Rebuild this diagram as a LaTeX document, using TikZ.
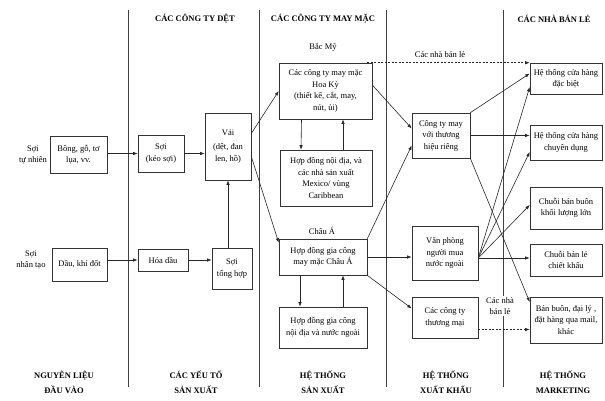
\documentclass[tikz,border=0pt]{standalone}
\usepackage{fontspec}
\setmainfont{Liberation Serif}
\usetikzlibrary{arrows.meta,calc}
\begin{document}
\begin{tikzpicture}[x=1pt,y=-1pt,
  box/.style={draw=black!80, line width=0.6pt, align=center, inner sep=1pt,
    font=\fontsize{8.5}{11.5}\selectfont},
  lbl/.style={align=center, inner sep=1pt, font=\fontsize{8.5}{11.5}\selectfont},
  hdr/.style={align=center, inner sep=1pt, font=\bfseries\fontsize{8.5}{15}\selectfont},
  arr/.style={-{Latex[length=4.5pt,width=3.4pt]}, line width=0.6pt, draw=black!85},
  darr/.style={arr, dashed, dash pattern=on 2pt off 1.5pt},
  sepline/.style={line width=0.8pt, draw=black!75}]
\useasboundingbox (0,0) rectangle (605,400);
% column separators
\draw[sepline] (128,10) -- (128,387);
\draw[sepline] (259,10) -- (259,387);
\draw[sepline] (386,10) -- (386,387);
\draw[sepline] (503,10) -- (503,387);
% headers
\node[hdr] (h1) at (195,19) {CÁC CÔNG TY DỆT};
\node[hdr] (h2) at (323,19) {CÁC CÔNG TY MAY MẶC};
\node[hdr] (h3) at (554,19) {CÁC NHÀ BÁN LẺ};
% bottom labels
\node[hdr] (b1) at (64,382) {NGUYÊN LIỆU\\ĐẦU VÀO};
\node[hdr] (b2) at (196,382) {CÁC YẾU TỐ\\SẢN XUẤT};
\node[hdr] (b3) at (323,382) {HỆ THỐNG\\SẢN XUẤT};
\node[hdr] (b4) at (446,382) {HỆ THỐNG\\XUẤT KHẨU};
\node[hdr] (b5) at (563,382) {HỆ THỐNG\\MARKETING};
% column 1
\node[lbl] (ltn) at (33,155) {Sợi\\tự nhiên};
\node[lbl] (lnt) at (31,260) {Sợi\\nhân tạo};
\node[box, fill=white, minimum width=57pt, minimum height=37pt] (bong) at (78.5,154.5) {Bông, gỗ, tơ\\lụa, vv.};
\node[box, minimum width=55pt, minimum height=33pt] (dau) at (79.5,264.5) {Dầu, khí đốt};
% column 2
\node[box, minimum width=46pt, minimum height=37pt] (keosoi) at (161,153.5) {Sợi\\(kéo sợi)};
\node[box, minimum width=46pt, minimum height=67pt] (vai) at (228,146.5) {Vải\\[3pt](dệt, đan\\len, hồ)};
\node[box, minimum width=50pt, minimum height=22pt] (hoadau) at (163,260) {Hóa dầu};
\node[box, minimum width=40pt, minimum height=41pt] (soith) at (232,268.5) {Sợi\\tổng hợp};
% column 3
\node[lbl] (bacmy) at (323,47) {Bắc Mỹ};
\node[box, minimum width=93pt, minimum height=56pt] (hoaky) at (325.5,91) {Các công ty may mặc\\Hoa Kỳ\\(thiết kế, cắt, may,\\nút, ủi)};
\node[box, minimum width=92pt, minimum height=56pt] (mexico) at (326,178) {Hợp đồng nội địa, và\\các nhà sản xuất\\Mexico/ vùng\\Caribbean};
\node[lbl] (chaualbl) at (322,231) {Châu Á};
\node[box, minimum width=88pt, minimum height=36pt] (chaua) at (323,257) {Hợp đồng gia công\\may mặc Châu Á};
\node[box, minimum width=88pt, minimum height=41pt] (noidia) at (323,327.5) {Hợp đồng gia công\\nội địa và nước ngoài};
% column 4
\node[box, minimum width=58pt, minimum height=45pt] (ctmay) at (441,135.5) {Công ty may\\với thương\\hiệu riêng};
\node[box, minimum width=66pt, minimum height=54pt] (vanphong) at (445,253) {Văn phòng\\người mua\\nước ngoài};
\node[box, minimum width=66pt, minimum height=41pt] (thuongmai) at (445,317.5) {Các công ty\\thương mại};
% column 5
\node[box, minimum width=72pt, minimum height=31pt] (dacbiet) at (566,78.5) {Hệ thống cửa hàng\\đặc biệt};
\node[box, minimum width=72pt, minimum height=35pt] (chuyendung) at (566,142.5) {Hệ thống cửa hàng\\chuyên dụng};
\node[box, minimum width=72pt, minimum height=42pt] (khoiluong) at (566,208) {Chuỗi bán buôn\\khối lượng lớn};
\node[box, minimum width=72pt, minimum height=32pt] (chietkhau) at (566,260) {Chuỗi bán lẻ\\chiết khấu};
\node[box, minimum width=72pt, minimum height=46pt] (banbuon) at (566,320) {Bán buôn, đại lý ,\\đặt hàng qua mail,\\khác};
% connectors: inputs and textiles
\draw[arr] (bong.east |- keosoi) -- (keosoi.west);
\draw[arr] (keosoi.east) -- (vai.west |- keosoi.east);
\draw[arr] (dau.east |- hoadau) -- (hoadau.west);
\draw[arr] (hoadau.east) -- (soith.west |- hoadau.east);
\draw[arr] (soith.north -| vai.south) -- (vai.south);
\draw[arr] ($(vai.east)+(0,-13)$) -- (hoaky.west);
\draw[arr] ($(vai.east)+(0,10)$) -- ($(chaua.north west)+(0,4)$);
% apparel
\draw[arr] ($(hoaky.south)+(-24,0)$) -- ($(mexico.north)+(-25,0)$);
\draw[arr] ($(mexico.north)+(17,0)$) -- ($(hoaky.south)+(17.5,0)$);
\draw[arr] ($(chaua.south)+(-23,0)$) -- ($(noidia.north)+(-23,0)$);
\draw[arr] ($(noidia.north)+(20,0)$) -- ($(chaua.south)+(20,0)$);
\draw[arr] ($(hoaky.east)+(0,-6)$) -- ($(ctmay.west)+(0,-7)$);
\draw[arr] (chaua.north east) -- ($(ctmay.west)+(0,10)$);
\draw[arr] (chaua.east) -- (vanphong.west |- chaua.east);
\draw[arr] (chaua.south east) -- ($(thuongmai.west)+(0,-9)$);
% export to retail
\draw[darr] ($(hoaky.north east)+(-5,0)$) -- (dacbiet.north west);
\node[lbl] (cnbl1) at (440,55) {Các nhà bán lẻ};
\draw[arr] (ctmay.north east) -- ($(dacbiet.west)+(0,-5)$);
\draw[arr] (ctmay.east) -- (chuyendung.west |- ctmay.east);
\draw[arr] (ctmay.south east) -- ($(banbuon.west)+(0,-18)$);
\coordinate (fan) at ($(vanphong.east)+(0,5)$);
\draw[arr] (fan) -- ($(dacbiet.west)+(0,8.5)$);
\draw[arr] (fan) -- ($(chuyendung.west)+(0,9.5)$);
\draw[arr] (fan) -- ($(khoiluong.west)+(0,-3)$);
\draw[arr] (fan) -- (chietkhau.west |- fan);
\node[lbl, fill=white] (cnbl2) at (500,306) {Các nhà\\bán lẻ};
\draw[darr] ($(thuongmai.east)+(0,12)$) -- ($(banbuon.west)+(0,9.5)$);
\end{tikzpicture}
\end{document}
